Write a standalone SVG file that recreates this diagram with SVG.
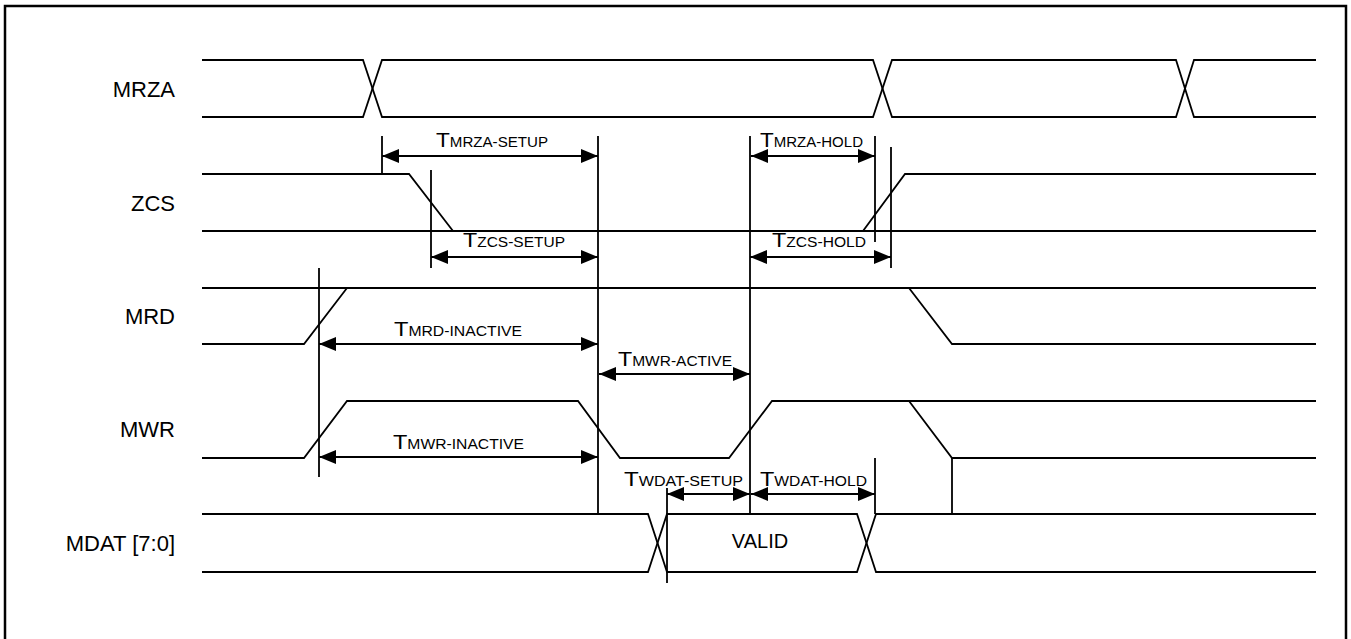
<svg xmlns="http://www.w3.org/2000/svg" width="1351" height="639" viewBox="0 0 1351 639">
<style>
.w{fill:none;stroke:#000;stroke-width:1.8;stroke-linejoin:miter}
.v{stroke:#000;stroke-width:1.8}
.a{stroke:#000;stroke-width:1.8;marker-start:url(#ah);marker-end:url(#ah)}
.lbl{font-family:"Liberation Sans",Arial,sans-serif;font-size:22px;fill:#000}
.tl{font-family:"Liberation Sans",Arial,sans-serif;font-size:14px;fill:#000}
.big{font-size:21px}
</style>
<defs>
<marker id="ah" viewBox="0 0 17 14" refX="17" refY="7" markerWidth="17" markerHeight="14" markerUnits="userSpaceOnUse" orient="auto-start-reverse"><path d="M0,0 L17,7 L0,14 Z" fill="#000"/></marker>
</defs>
<rect width="1351" height="639" fill="#fff"/>
<path d="M5,645 V6 H1346 V645" fill="none" stroke="#000" stroke-width="2.5"/>

<g id="MRZA">
<text class="lbl" x="175" y="97" text-anchor="end">MRZA</text>
<path class="w" d="M202,60 H363 L382,117 H873 L892,60 H1176 L1194,117 H1316"/>
<path class="w" d="M202,117 H363 L382,60 H873 L892,117 H1176 L1194,60 H1316"/>
</g>

<g id="ZCS">
<text class="lbl" x="175" y="211" text-anchor="end">ZCS</text>
<path class="w" d="M202,174 H409 L453,231"/>
<path class="w" d="M202,231 H1316"/>
<path class="w" d="M863,231 L905,174 H1316"/>
</g>

<g id="MRD">
<text class="lbl" x="175" y="324" text-anchor="end">MRD</text>
<path class="w" d="M202,288 H1316"/>
<path class="w" d="M202,344 H304 L347,288"/>
<path class="w" d="M909,288 L952,344 H1316"/>
</g>

<g id="MWR">
<text class="lbl" x="175" y="437" text-anchor="end">MWR</text>
<path class="w" d="M202,458 H304 L347,401 H578 L620,458 H729 L772,401 H1316"/>
<path class="w" d="M909,401 L952,458 H1316"/>
</g>

<g id="MDAT">
<text class="lbl" x="175" y="551" text-anchor="end">MDAT [7:0]</text>
<path class="w" d="M202,514 H648 L667,572 H857 L876,514 H1316"/>
<path class="w" d="M202,572 H648 L667,514 H857 L876,572 H1316"/>
<text class="lbl" x="760" y="548" text-anchor="middle" style="font-size:20px">VALID</text>
</g>

<g id="connectors">
<line class="v" x1="382" y1="136" x2="382" y2="174"/>
<line class="v" x1="598" y1="136" x2="598" y2="514"/>
<line class="v" x1="750" y1="136" x2="750" y2="514"/>
<line class="v" x1="875" y1="136" x2="875" y2="242"/>
<line class="v" x1="891" y1="147" x2="891" y2="268"/>
<line class="v" x1="431" y1="170" x2="431" y2="268"/>
<line class="v" x1="319" y1="268" x2="319" y2="477"/>
<line class="v" x1="667" y1="488" x2="667" y2="583"/>
<line class="v" x1="875" y1="458" x2="875" y2="514"/>
<line class="v" x1="952" y1="458" x2="952" y2="514"/>

<line class="a" x1="382" y1="156" x2="598" y2="156"/>
<line class="a" x1="751" y1="156" x2="875" y2="156"/>
<line class="a" x1="431" y1="257" x2="598" y2="257"/>
<line class="a" x1="750" y1="257" x2="891" y2="257"/>
<line class="a" x1="319" y1="344" x2="598" y2="344"/>
<line class="a" x1="599" y1="374" x2="750" y2="374"/>
<line class="a" x1="319" y1="457" x2="598" y2="457"/>
<line class="a" x1="667" y1="494" x2="750" y2="494"/>
<line class="a" x1="751" y1="494" x2="875" y2="494"/>
</g>

<g id="timing-labels">
<text class="tl" x="436" y="147" textLength="112" lengthAdjust="spacingAndGlyphs"><tspan class="big">T</tspan>MRZA-SETUP</text>
<text class="tl" x="463" y="247" textLength="102" lengthAdjust="spacingAndGlyphs"><tspan class="big">T</tspan>ZCS-SETUP</text>
<text class="tl" x="760" y="147" textLength="103" lengthAdjust="spacingAndGlyphs"><tspan class="big">T</tspan>MRZA-HOLD</text>
<text class="tl" x="772" y="247" textLength="94" lengthAdjust="spacingAndGlyphs"><tspan class="big">T</tspan>ZCS-HOLD</text>
<text class="tl" x="394" y="336" textLength="128" lengthAdjust="spacingAndGlyphs"><tspan class="big">T</tspan>MRD-INACTIVE</text>
<text class="tl" x="618" y="366" textLength="114" lengthAdjust="spacingAndGlyphs"><tspan class="big">T</tspan>MWR-ACTIVE</text>
<text class="tl" x="393" y="449" textLength="131" lengthAdjust="spacingAndGlyphs"><tspan class="big">T</tspan>MWR-INACTIVE</text>
<text class="tl" x="624" y="486" textLength="119" lengthAdjust="spacingAndGlyphs"><tspan class="big">T</tspan>WDAT-SETUP</text>
<text class="tl" x="760" y="486" textLength="107" lengthAdjust="spacingAndGlyphs"><tspan class="big">T</tspan>WDAT-HOLD</text>
</g>
</svg>
